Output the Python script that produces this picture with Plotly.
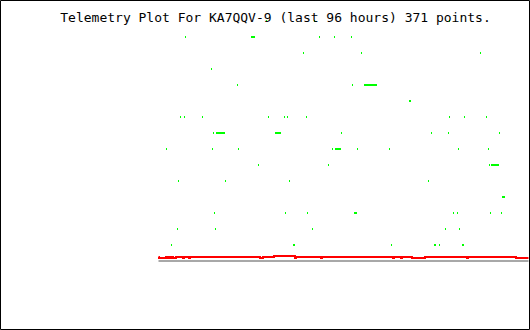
import plotly.graph_objects as go

# ---- data (sample index 0..370, telemetry value 0..255) ----
title_text = "Telemetry Plot For KA7QQV-9 (last 96 hours) 371 points."

green_x = [108, 156, 291,
           27, 93, 94, 95, 96, 161, 176, 193,
           145, 203, 322,
           53,
           79, 194, 206, 207, 208, 209, 210, 211, 212, 213, 214, 215, 216, 217, 218,
           251, 252,
           22, 26, 44, 110, 126, 129, 148, 291, 306, 328,
           55, 58, 59, 60, 61, 62, 63, 64, 65, 66, 117, 118, 119, 120, 121, 122, 183, 273, 290, 341,
           8, 54, 80, 174, 177, 178, 179, 180, 181, 182, 199, 231, 300, 330,
           100, 170, 331, 333, 334, 335, 336, 337, 338, 339, 340,
           20, 67, 131, 270,
           344, 345, 346,
           56, 127, 149, 196, 197, 198, 295, 299, 332, 343,
           19, 57, 154, 287, 301,
           13, 135, 136, 233, 276, 277, 281, 304, 305]
green_y = [240, 240, 240,
           224, 224, 224, 224, 224, 224, 224, 224,
           208, 208, 208,
           192,
           176, 176, 176, 176, 176, 176, 176, 176, 176, 176, 176, 176, 176, 176, 176,
           160, 160,
           144, 144, 144, 144, 144, 144, 144, 144, 144, 144,
           128, 128, 128, 128, 128, 128, 128, 128, 128, 128, 128, 128, 128, 128, 128, 128, 128, 128, 128, 128,
           112, 112, 112, 112, 112, 112, 112, 112, 112, 112, 112, 112, 112, 112,
           96, 96, 96, 96, 96, 96, 96, 96, 96, 96, 96,
           80, 80, 80, 80,
           64, 64, 64,
           48, 48, 48, 48, 48, 48, 48, 48, 48, 48,
           32, 32, 32, 32, 32,
           16, 16, 16, 16, 16, 16, 16, 16, 16]

# red channel: start/end sample of each constant run
red_x = [0, 0, 1, 7, 8, 8, 9, 10, 11, 11, 12, 13, 14, 14, 15, 17, 18, 24, 25, 25,
         26, 30, 31, 31, 32, 101, 102, 104, 105, 115, 116, 136, 137, 137, 138, 162,
         163, 163, 164, 234, 235, 235, 236, 242, 243, 243, 244, 253, 254, 266,
         267, 308, 309, 309, 310, 357, 358, 370]
red_y = [4, 4, 3, 3, 4, 4, 3, 3, 4, 4, 3, 3, 4, 4, 3, 3, 4, 4, 3, 3,
         4, 4, 3, 3, 4, 4, 3, 3, 4, 4, 5, 5, 3, 3, 4, 4,
         3, 3, 4, 4, 3, 3, 4, 4, 3, 3, 4, 4, 3, 3,
         4, 4, 3, 3, 4, 4, 3, 3]

gray_x = [0, 370]
gray_y = [0, 0]

# ---- figure ----
W, H = 530, 330
L, R, T, B = 158, 1, 5, 68
pw, ph = W - L - R, H - T - B

fig = go.Figure()
fig.add_trace(go.Scatter(x=gray_x, y=gray_y, mode="lines",
                         line=dict(color="#A8A8A8", width=2), hoverinfo="skip"))
fig.add_trace(go.Scatter(x=red_x, y=red_y, mode="lines", line_shape="hvh",
                         line=dict(color="#FF0000", width=2), hoverinfo="skip"))
fig.add_trace(go.Scatter(x=green_x, y=green_y, mode="markers", cliponaxis=False,
                         marker=dict(symbol="line-ns", size=1.43,
                                     line=dict(color="#00FF00", width=1)),
                         hoverinfo="skip"))

# outer black frame around the whole image
fig.add_shape(type="rect", xref="paper", yref="paper",
              x0=(0.5 - L) / pw, x1=(W - 0.5 - L) / pw,
              y0=(H - B - (H - 0.5)) / ph, y1=(H - B - 0.5) / ph,
              line=dict(color="black", width=1), layer="above")

fig.update_layout(
    width=W, height=H,
    margin=dict(l=L, r=R, t=T, b=B, pad=0),
    paper_bgcolor="white", plot_bgcolor="white",
    showlegend=False,
    title=dict(text=title_text, x=275.5 / W, xanchor="center",
               y=1 - 17.5 / H, yanchor="middle",
               font=dict(family="DejaVu Sans Mono", size=13, color="black")),
    xaxis=dict(range=[-0.5, 370.5], visible=False, fixedrange=True),
    yaxis=dict(range=[-1, 256], visible=False, fixedrange=True),
)

fig.write_html("out.html", config={"displayModeBar": False})
